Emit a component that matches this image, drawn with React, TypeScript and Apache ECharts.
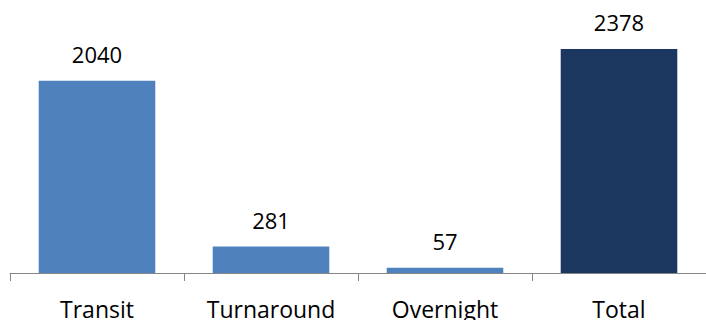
import React, { useEffect, useRef } from "react";
import * as echarts from "echarts";

const categories = ["Transit", "Turnaround", "Overnight", "Total"];
const values = [2040, 281, 57, 2378];
const barColors = ["#4F81BD", "#4F81BD", "#4F81BD", "#1B3760"];

export default function App() {
  const ref = useRef<HTMLDivElement>(null);
  useEffect(() => {
    if (!ref.current) return;
    const chart = echarts.init(ref.current, null, { renderer: "svg" });
    chart.setOption({
      animation: false,
      grid: { left: 10, right: 0, top: 37.4, bottom: 320 - 274.5 },
      xAxis: {
        type: "category",
        data: categories,
        boundaryGap: true,
        axisLine: { lineStyle: { color: "#868686", width: 1 } },
        axisTick: { show: true, length: 8, lineStyle: { color: "#868686" } },
        axisLabel: {
          color: "#000",
          fontFamily: "Open Sans",
          fontSize: 23,
          margin: 24,
        },
      },
      yAxis: {
        type: "value",
        min: 0,
        max: 2500,
        show: false,
        splitLine: { show: false },
      },
      series: [
        {
          type: "bar",
          barCategoryGap: "33%",
          data: values.map((v, i) => ({ value: v, itemStyle: { color: barColors[i] } })),
          label: {
            show: true,
            position: "top",
            distance: 16,
            color: "#000",
            fontFamily: "Open Sans",
            fontSize: 22,
          },
        },
      ],
    });
    return () => chart.dispose();
  }, []);
  return (
    <div
      ref={ref}
      style={{ position: "fixed", left: 0, top: 0, width: 706, height: 320, background: "#fff" }}
    />
  );
}
